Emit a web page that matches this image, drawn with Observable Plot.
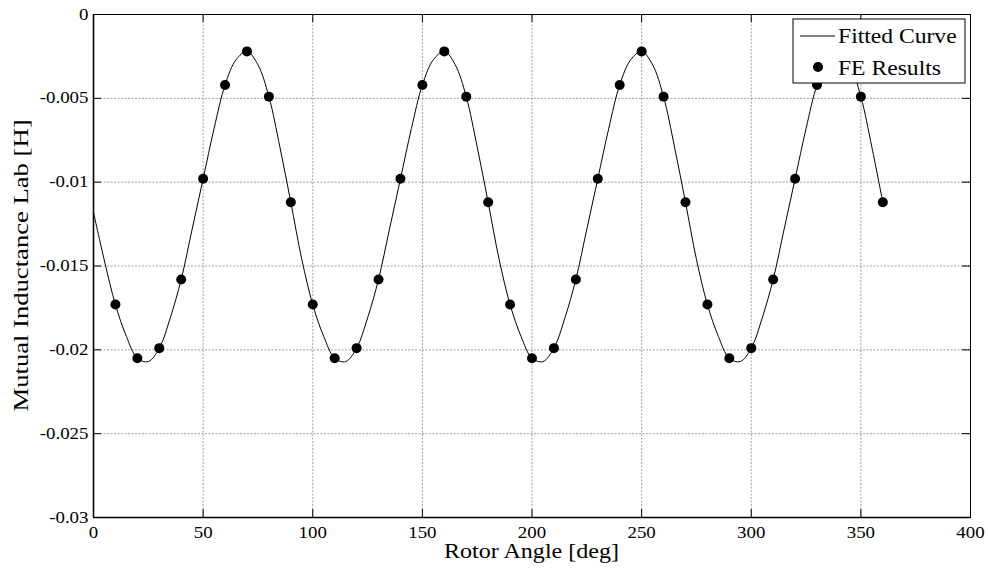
<!DOCTYPE html>
<html><head><meta charset="utf-8">
<script src="https://cdn.jsdelivr.net/npm/d3@7"></script>
<script src="https://cdn.jsdelivr.net/npm/@observablehq/plot@0.6"></script>
<style>
html,body{margin:0;padding:0;background:#fff;}
#chart{position:relative;width:988px;height:574px;}
</style>
</head><body><div id="chart"></div>
<script>
// ---- data ----
const xTicks = [0, 50, 100, 150, 200, 250, 300, 350, 400];
const yTicks = [0, -0.005, -0.01, -0.015, -0.02, -0.025, -0.03];
const xGrid = [50, 100, 150, 200, 250, 300, 350];
const yGrid = [-0.005, -0.01, -0.015, -0.02, -0.025];

// Fitted curve (sampled every 5 deg)
const curveAngle = [0,5,10,15,20,25,30,35,40,45,50,55,60,65,70,75,80,85,
  90,95,100,105,110,115,120,125,130,135,140,145,150,155,160,165,170,175,
  180,185,190,195,200,205,210,215,220,225,230,235,240,245,250,255,260,265,
  270,275,280,285,290,295,300,305,310,315,320,325,330,335,340,345,350,355,360];
const curveL = [-0.0118,-0.0147,-0.0173,-0.0192,-0.0205,-0.0207,-0.0199,-0.0181,-0.0158,-0.0128,-0.0098,-0.0068,-0.0042,-0.0027,-0.0022,-0.0030,-0.0049,-0.0079,
  -0.0112,-0.0146,-0.0173,-0.0192,-0.0205,-0.0207,-0.0199,-0.0181,-0.0158,-0.0128,-0.0098,-0.0068,-0.0042,-0.0027,-0.0022,-0.0030,-0.0049,-0.0079,
  -0.0112,-0.0146,-0.0173,-0.0192,-0.0205,-0.0207,-0.0199,-0.0181,-0.0158,-0.0128,-0.0098,-0.0068,-0.0042,-0.0027,-0.0022,-0.0030,-0.0049,-0.0079,
  -0.0112,-0.0146,-0.0173,-0.0192,-0.0205,-0.0207,-0.0199,-0.0181,-0.0158,-0.0128,-0.0098,-0.0068,-0.0042,-0.0027,-0.0022,-0.0030,-0.0049,-0.0079,-0.0112];

// FE results
const feAngle = [10,20,30,40,50,60,70,80,90,100,110,120,130,140,150,160,170,180,
  190,200,210,220,230,240,250,260,270,280,290,300,310,320,330,340,350,360];
const feL = [-0.0173,-0.0205,-0.0199,-0.0158,-0.0098,-0.0042,-0.0022,-0.0049,-0.0112,
  -0.0173,-0.0205,-0.0199,-0.0158,-0.0098,-0.0042,-0.0022,-0.0049,-0.0112,
  -0.0173,-0.0205,-0.0199,-0.0158,-0.0098,-0.0042,-0.0022,-0.0049,-0.0112,
  -0.0173,-0.0205,-0.0199,-0.0158,-0.0098,-0.0042,-0.0022,-0.0049,-0.0112];

const xLabel = "Rotor Angle [deg]";
const yLabel = "Mutual Inductance Lab [H]";
const seriesNames = ["Fitted Curve", "FE Results"];

const curve = curveAngle.map((a, i) => ({a, v: curveL[i]}));
const points = feAngle.map((a, i) => ({a, v: feL[i]}));

// ---- layout ----
const W = 988, H = 574, mL = 93, mR = 18, mT = 14, mB = 57;
const innerW = W - mL - mR, innerH = H - mT - mB;
const FONT = "'Liberation Serif','Times New Roman',serif";
const gridStyle = {stroke: "#888", strokeOpacity: 1, strokeWidth: 0.8, strokeDasharray: "2,1.5"};

const plot = Plot.plot({
  width: W, height: H,
  marginLeft: mL, marginRight: mR, marginTop: mT, marginBottom: mB,
  style: {fontFamily: FONT, fontSize: "16px", color: "#000", background: "#fff", overflow: "visible"},
  x: {domain: [0, 400]},
  y: {domain: [-0.03, 0]},
  marks: [
    Plot.gridX(xGrid, {x: d => d, ...gridStyle}),
    Plot.gridY(yGrid, {y: d => d, ...gridStyle}),
    Plot.tickX(xTicks, {x: d => d, stroke: "#000", insetTop: innerH - 8}),
    Plot.tickX(xTicks, {x: d => d, stroke: "#000", insetBottom: innerH - 8}),
    Plot.tickY(yTicks, {y: d => d, stroke: "#000", insetRight: innerW - 8}),
    Plot.tickY(yTicks, {y: d => d, stroke: "#000", insetLeft: innerW - 8}),
    Plot.frame({stroke: "#000", strokeWidth: 1}),
    Plot.ruleX([0], {x: d => d, stroke: "#000", strokeWidth: 1.6}),
    Plot.ruleY([-0.03], {y: d => d, stroke: "#000", strokeWidth: 1.6}),
    Plot.line(curve, {x: "a", y: "v", stroke: "#000", strokeWidth: 1, curve: "catmull-rom"}),
    Plot.dot(points, {x: "a", y: "v", r: 5, fill: "#000", stroke: "none"}),
    Plot.axisX(xTicks, {tickSize: 0, tickPadding: 9, label: null, tickFormat: d => String(d)}),
    Plot.axisY(yTicks, {tickSize: 0, tickPadding: 5, label: null, tickFormat: d => String(d)})
  ]
});
document.getElementById("chart").appendChild(plot);

// stretch tick labels horizontally like the reference
const STRETCH = 1.18;
plot.querySelectorAll('g[aria-label$="tick label"] text').forEach(t => {
  const L = t.getComputedTextLength();
  t.setAttribute("textLength", (L * STRETCH).toFixed(2));
  t.setAttribute("lengthAdjust", "spacingAndGlyphs");
});

const svg = d3.select(plot);
function addText(g, txt, attrs, len) {
  const t = g.append("text").text(txt)
    .attr("font-family", FONT).attr("fill", "#000").attr("text-anchor", "start");
  Object.entries(attrs).forEach(([k, v]) => t.attr(k, v));
  const L = t.node().getComputedTextLength();
  t.attr("textLength", len ? len : (L * STRETCH).toFixed(2)).attr("lengthAdjust", "spacingAndGlyphs");
  return t;
}
// axis labels
addText(svg, xLabel, {x: mL + innerW / 2, y: 558, "text-anchor": "middle", "font-size": 20}, 175);
addText(svg, yLabel, {transform: `translate(28,${mT + innerH / 2}) rotate(-90)`, "text-anchor": "middle", "font-size": 20}, 292);

// legend
const lg = svg.append("g");
lg.append("rect").attr("x", 793).attr("y", 19).attr("width", 172).attr("height", 64)
  .attr("fill", "#fff").attr("stroke", "#000").attr("stroke-width", 1);
lg.append("line").attr("x1", 800).attr("x2", 835).attr("y1", 36).attr("y2", 36)
  .attr("stroke", "#000").attr("stroke-width", 1);
lg.append("circle").attr("cx", 818).attr("cy", 67).attr("r", 5).attr("fill", "#000");
addText(lg, seriesNames[0], {x: 838, y: 43, "font-size": 20, "text-anchor": "start"});
addText(lg, seriesNames[1], {x: 838, y: 75, "font-size": 20, "text-anchor": "start"});
</script>
</body></html>
